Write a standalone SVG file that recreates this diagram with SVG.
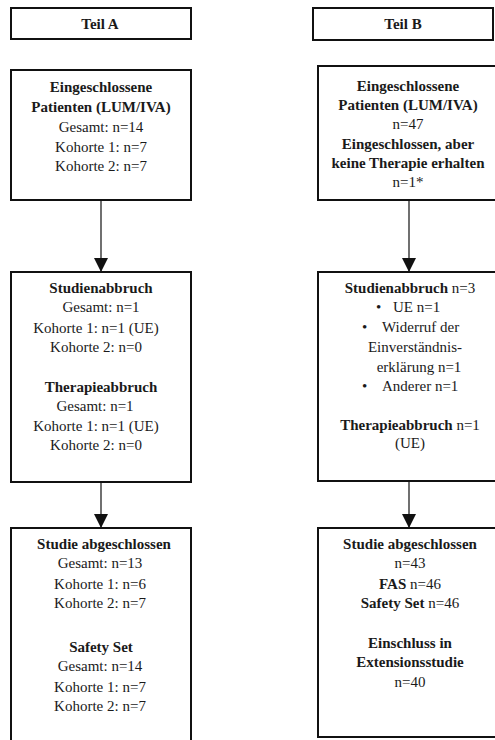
<svg xmlns="http://www.w3.org/2000/svg" width="495" height="740" viewBox="0 0 495 740">
<defs>
<marker id="ah" markerWidth="14" markerHeight="14" refX="14" refY="7" orient="auto" markerUnits="userSpaceOnUse">
<path d="M0,0 L14,7 L0,14 Z" fill="#111"/>
</marker>
</defs>
<rect width="495" height="740" fill="#fff"/>
<g id="connectors" stroke="#111" stroke-width="1.2" fill="none">
<line x1="101" y1="200" x2="101" y2="272" marker-end="url(#ah)"/>
<line x1="101" y1="482" x2="101" y2="528" marker-end="url(#ah)"/>
<line x1="409" y1="200" x2="409" y2="272" marker-end="url(#ah)"/>
<line x1="409" y1="481" x2="409" y2="528" marker-end="url(#ah)"/>
</g>
<g id="teilA">
<rect x="11" y="8" width="180" height="31" fill="#fff" stroke="#111" stroke-width="2"/>
<text font-family="Liberation Serif" font-size="15" fill="#1a1a1a" text-anchor="middle" font-weight="bold" x="100" y="29">Teil A</text>
</g>
<g id="teilB">
<rect x="313" y="8" width="180" height="32" fill="#fff" stroke="#111" stroke-width="2"/>
<text font-family="Liberation Serif" font-size="15" fill="#1a1a1a" text-anchor="middle" font-weight="bold" x="403" y="29">Teil B</text>
</g>
<g id="a1">
<rect x="11" y="70" width="180" height="130" fill="#fff" stroke="#111" stroke-width="2"/>
<text font-family="Liberation Serif" font-size="15" fill="#1a1a1a" text-anchor="middle" font-weight="bold" x="101" y="92">Eingeschlossene</text>
<text font-family="Liberation Serif" font-size="15" fill="#1a1a1a" text-anchor="middle" font-weight="bold" x="101" y="112">Patienten (LUM/IVA)</text>
<text font-family="Liberation Serif" font-size="15" fill="#1a1a1a" text-anchor="middle" x="101" y="132">Gesamt: n=14</text>
<text font-family="Liberation Serif" font-size="15" fill="#1a1a1a" text-anchor="middle" x="101" y="152">Kohorte 1: n=7</text>
<text font-family="Liberation Serif" font-size="15" fill="#1a1a1a" text-anchor="middle" x="101" y="171">Kohorte 2: n=7</text>
</g>
<g id="b1">
<rect x="318" y="66" width="180" height="134" fill="#fff" stroke="#111" stroke-width="2"/>
<text font-family="Liberation Serif" font-size="15" fill="#1a1a1a" text-anchor="middle" font-weight="bold" x="408" y="91">Eingeschlossene</text>
<text font-family="Liberation Serif" font-size="15" fill="#1a1a1a" text-anchor="middle" font-weight="bold" x="408" y="110">Patienten (LUM/IVA)</text>
<text font-family="Liberation Serif" font-size="15" fill="#1a1a1a" text-anchor="middle" x="408" y="129">n=47</text>
<text font-family="Liberation Serif" font-size="15" fill="#1a1a1a" text-anchor="middle" font-weight="bold" x="408" y="149">Eingeschlossen, aber</text>
<text font-family="Liberation Serif" font-size="15" fill="#1a1a1a" text-anchor="middle" font-weight="bold" x="408" y="168">keine Therapie erhalten</text>
<text font-family="Liberation Serif" font-size="15" fill="#1a1a1a" text-anchor="middle" x="408" y="187">n=1*</text>
</g>
<g id="a2">
<rect x="11" y="272" width="180" height="210" fill="#fff" stroke="#111" stroke-width="2"/>
<text font-family="Liberation Serif" font-size="15" fill="#1a1a1a" text-anchor="middle" font-weight="bold" x="101" y="293">Studienabbruch</text>
<text font-family="Liberation Serif" font-size="15" fill="#1a1a1a" text-anchor="middle" x="101" y="312">Gesamt: n=1</text>
<text font-family="Liberation Serif" font-size="15" fill="#1a1a1a" text-anchor="middle" x="96" y="333">Kohorte 1: n=1 (UE)</text>
<text font-family="Liberation Serif" font-size="15" fill="#1a1a1a" text-anchor="middle" x="96" y="352">Kohorte 2: n=0</text>
<text font-family="Liberation Serif" font-size="15" fill="#1a1a1a" text-anchor="middle" font-weight="bold" x="101" y="392">Therapieabbruch</text>
<text font-family="Liberation Serif" font-size="15" fill="#1a1a1a" text-anchor="middle" x="95" y="411">Gesamt: n=1</text>
<text font-family="Liberation Serif" font-size="15" fill="#1a1a1a" text-anchor="middle" x="96" y="431">Kohorte 1: n=1 (UE)</text>
<text font-family="Liberation Serif" font-size="15" fill="#1a1a1a" text-anchor="middle" x="96" y="450">Kohorte 2: n=0</text>
</g>
<g id="b2">
<rect x="318" y="272" width="180" height="209" fill="#fff" stroke="#111" stroke-width="2"/>
<text font-family="Liberation Serif" font-size="15" fill="#1a1a1a" text-anchor="middle" x="410" y="293"><tspan font-weight="bold">Studienabbruch</tspan> n=3</text>
<text font-family="Liberation Serif" font-size="15" fill="#1a1a1a" x="376" y="312">•</text>
<text font-family="Liberation Serif" font-size="15" fill="#1a1a1a" x="393" y="312">UE n=1</text>
<text font-family="Liberation Serif" font-size="15" fill="#1a1a1a" x="362" y="332">•</text>
<text font-family="Liberation Serif" font-size="15" fill="#1a1a1a" x="382" y="332">Widerruf der</text>
<text font-family="Liberation Serif" font-size="15" fill="#1a1a1a" text-anchor="middle" x="415" y="352">Einverständnis-</text>
<text font-family="Liberation Serif" font-size="15" fill="#1a1a1a" text-anchor="middle" x="419" y="372">erklärung n=1</text>
<text font-family="Liberation Serif" font-size="15" fill="#1a1a1a" x="362" y="391">•</text>
<text font-family="Liberation Serif" font-size="15" fill="#1a1a1a" x="382" y="391">Anderer n=1</text>
<text font-family="Liberation Serif" font-size="15" fill="#1a1a1a" text-anchor="middle" x="410" y="430"><tspan font-weight="bold">Therapieabbruch</tspan> n=1</text>
<text font-family="Liberation Serif" font-size="15" fill="#1a1a1a" text-anchor="middle" x="410" y="448">(UE)</text>
</g>
<g id="a3">
<rect x="11" y="528" width="180" height="222" fill="#fff" stroke="#111" stroke-width="2"/>
<text font-family="Liberation Serif" font-size="15" fill="#1a1a1a" text-anchor="middle" font-weight="bold" x="104" y="549">Studie abgeschlossen</text>
<text font-family="Liberation Serif" font-size="15" fill="#1a1a1a" text-anchor="middle" x="100" y="568">Gesamt: n=13</text>
<text font-family="Liberation Serif" font-size="15" fill="#1a1a1a" text-anchor="middle" x="100" y="589">Kohorte 1: n=6</text>
<text font-family="Liberation Serif" font-size="15" fill="#1a1a1a" text-anchor="middle" x="100" y="608">Kohorte 2: n=7</text>
<text font-family="Liberation Serif" font-size="15" fill="#1a1a1a" text-anchor="middle" font-weight="bold" x="101" y="652">Safety Set</text>
<text font-family="Liberation Serif" font-size="15" fill="#1a1a1a" text-anchor="middle" x="100" y="671">Gesamt: n=14</text>
<text font-family="Liberation Serif" font-size="15" fill="#1a1a1a" text-anchor="middle" x="100" y="692">Kohorte 1: n=7</text>
<text font-family="Liberation Serif" font-size="15" fill="#1a1a1a" text-anchor="middle" x="100" y="711">Kohorte 2: n=7</text>
</g>
<g id="b3">
<rect x="318" y="528" width="180" height="209" fill="#fff" stroke="#111" stroke-width="2"/>
<text font-family="Liberation Serif" font-size="15" fill="#1a1a1a" text-anchor="middle" font-weight="bold" x="410" y="549">Studie abgeschlossen</text>
<text font-family="Liberation Serif" font-size="15" fill="#1a1a1a" text-anchor="middle" x="410" y="568">n=43</text>
<text font-family="Liberation Serif" font-size="15" fill="#1a1a1a" text-anchor="middle" x="410" y="589"><tspan font-weight="bold">FAS</tspan> n=46</text>
<text font-family="Liberation Serif" font-size="15" fill="#1a1a1a" text-anchor="middle" x="410" y="608"><tspan font-weight="bold">Safety Set</tspan> n=46</text>
<text font-family="Liberation Serif" font-size="15" fill="#1a1a1a" text-anchor="middle" font-weight="bold" x="410" y="648">Einschluss in</text>
<text font-family="Liberation Serif" font-size="15" fill="#1a1a1a" text-anchor="middle" font-weight="bold" x="410" y="667">Extensionsstudie</text>
<text font-family="Liberation Serif" font-size="15" fill="#1a1a1a" text-anchor="middle" x="410" y="687">n=40</text>
</g>
</svg>
